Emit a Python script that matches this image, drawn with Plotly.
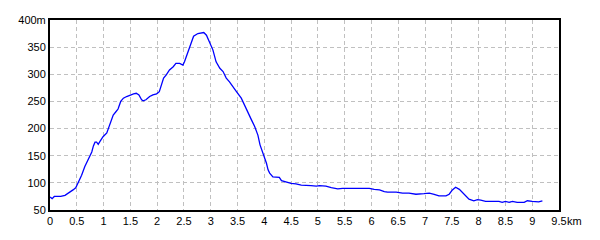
import plotly.graph_objects as go

dist_km = [0.00, 0.04, 0.08, 0.20, 0.28, 0.35, 0.43, 0.48, 0.53, 0.59, 0.65, 0.71, 0.78, 0.81,
           0.84, 0.87, 0.90, 0.93, 0.99, 1.06, 1.12, 1.18, 1.23, 1.27, 1.32, 1.37, 1.43, 1.50,
           1.56, 1.61, 1.66, 1.71, 1.74, 1.79, 1.86, 1.92, 1.99, 2.04, 2.08, 2.12, 2.17, 2.23,
           2.30, 2.35, 2.42, 2.48, 2.51, 2.58, 2.64, 2.68, 2.76, 2.87, 2.92, 2.98, 3.04, 3.10,
           3.17, 3.23, 3.29, 3.35, 3.41, 3.48, 3.57, 3.63, 3.69, 3.76, 3.82, 3.88, 3.92, 3.97,
           4.00, 4.04, 4.07, 4.10, 4.16, 4.25, 4.28, 4.32, 4.41, 4.50, 4.59, 4.69, 4.87, 4.97,
           5.03, 5.09, 5.15, 5.25, 5.37, 5.46, 5.71, 5.96, 6.05, 6.15, 6.24, 6.30, 6.46, 6.58,
           6.70, 6.83, 6.98, 7.08, 7.17, 7.26, 7.39, 7.45, 7.51, 7.57, 7.64, 7.73, 7.82, 7.91,
           7.98, 8.04, 8.13, 8.38, 8.44, 8.50, 8.57, 8.63, 8.72, 8.85, 8.91, 9.00, 9.12, 9.19]
elev_m = [74, 71, 75, 75, 77, 81, 87, 91, 101, 114, 130, 144, 157, 168,
          175, 175, 171, 176, 185, 192, 207, 225, 231, 236, 250, 256, 259, 262,
          264, 265, 262, 253, 251, 253, 259, 262, 264, 268, 283, 293, 299, 308,
          314, 320, 320, 317, 323, 342, 360, 370, 375, 377, 372, 358, 345, 323,
          311, 305, 293, 286, 277, 268, 256, 243, 228, 216, 204, 188, 170, 157,
          148, 136, 124, 118, 111, 110, 110, 104, 101, 99, 98, 96, 95, 94,
          95, 95, 94, 91, 89, 90, 90, 90, 88, 87, 84, 83, 83, 81,
          81, 79, 80, 81, 79, 76, 76, 79, 87, 92, 88, 78, 70, 67,
          69, 68, 66, 66, 64, 66, 64, 66, 64, 64, 67, 66, 65, 67]

x_ticks = [0, 0.5, 1, 1.5, 2, 2.5, 3, 3.5, 4, 4.5, 5, 5.5, 6, 6.5, 7, 7.5, 8, 8.5, 9, 9.5]
x_tick_text = ["0", "0.5", "1", "1.5", "2", "2.5", "3", "3.5", "4", "4.5", "5", "5.5",
               "6", "6.5", "7", "7.5", "8", "8.5", "9", "9.5"]
y_ticks = [50, 100, 150, 200, 250, 300, 350, 400]
y_tick_text = ["50", "100", "150", "200", "250", "300", "350", "400m"]

fig = go.Figure()
fig.add_trace(go.Scatter(x=dist_km, y=elev_m, mode="lines",
                         line=dict(color="#0000ff", width=1.3), showlegend=False))

font = dict(family="Liberation Sans, Arial, sans-serif", size=11, color="#000000")
fig.update_layout(
    width=600, height=240,
    margin=dict(l=50, r=41, t=20, b=30),
    paper_bgcolor="white", plot_bgcolor="white",
    font=font,
    xaxis=dict(range=[0, 9.5], tickmode="array", tickvals=x_ticks, ticktext=x_tick_text,
               showgrid=True, gridcolor="#c0c0c0", griddash="4px,3px", gridwidth=1,
               showline=True, linecolor="black", linewidth=2, mirror=True,
               ticks="", zeroline=False, tickfont=font),
    yaxis=dict(range=[50, 400], tickmode="array", tickvals=y_ticks, ticktext=y_tick_text,
               showgrid=True, gridcolor="#c0c0c0", griddash="4px,3px", gridwidth=1,
               showline=True, linecolor="black", linewidth=2, mirror=True,
               ticks="", zeroline=False, tickfont=font),
)
fig.add_annotation(x=9.5, y=0, xref="x", yref="paper", text="km", showarrow=False,
                   xanchor="left", yanchor="top", xshift=6, yshift=-3, font=font)

fig.write_html("out.html")
